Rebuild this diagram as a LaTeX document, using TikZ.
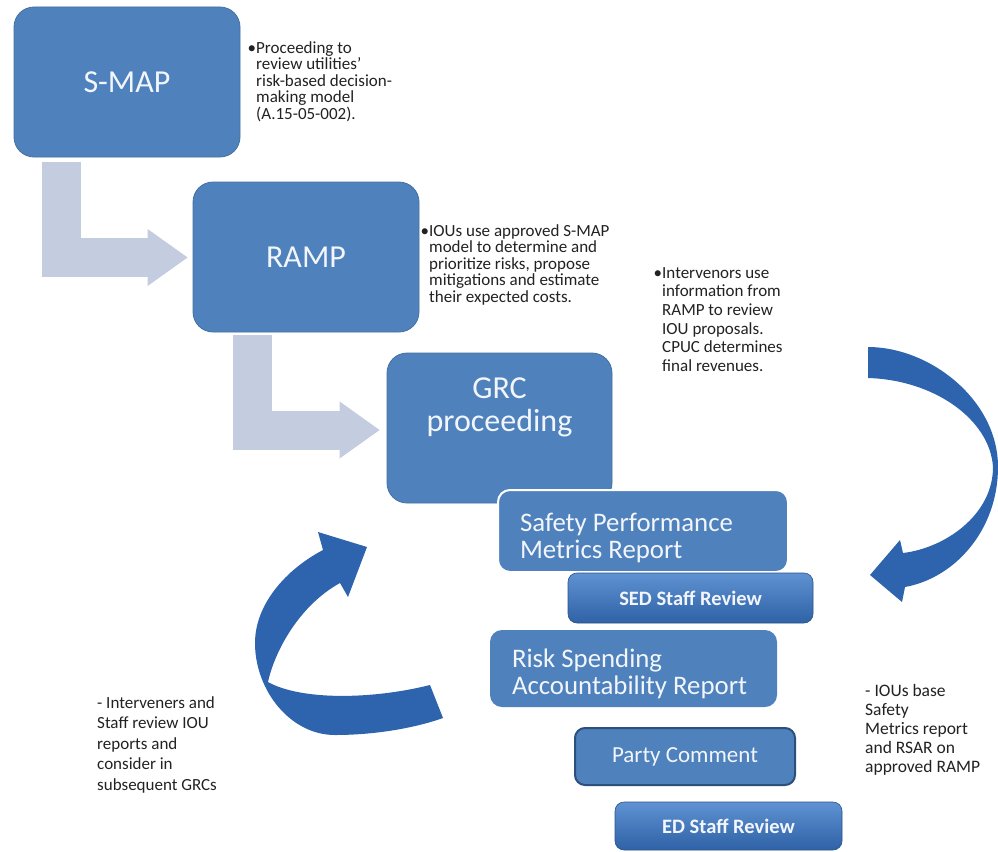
\documentclass[tikz,border=0pt]{standalone}
\usepackage{fontspec}
\setmainfont{Carlito}
\usepackage{xcolor}
\usepackage{tikz}
\usetikzlibrary{arrows.meta,calc}

\definecolor{boxblue}{HTML}{4F81BD}
\definecolor{boxline}{HTML}{44719F}
\definecolor{boxtext}{HTML}{F2F6FB}
\definecolor{partyline}{HTML}{2C4F7C}
\definecolor{stafftop}{HTML}{5F92D2}
\definecolor{staffbot}{HTML}{2F62A6}
\definecolor{stepgrey}{HTML}{C4CDDF}
\definecolor{loopblue}{HTML}{2E64AD}
\definecolor{notetext}{HTML}{222222}

\tikzset{
  mainbox/.style={rectangle,rounded corners=20pt,fill=boxblue,draw=boxline,line width=0.8pt,text=boxtext,font=\fontsize{32}{33}\selectfont,minimum width=226pt,minimum height=150pt,align=center},
  reportbox/.style={rectangle,rounded corners=12pt,fill=boxblue,text=boxtext,font=\fontsize{26.8}{27}\selectfont,align=flush left,inner xsep=22pt},
  staffbox/.style={rectangle,rounded corners=9pt,top color=stafftop,bottom color=staffbot,draw=staffbot!85!black,line width=0.6pt,text=boxtext,font=\bfseries\fontsize{20.5}{22}\selectfont},
  partybox/.style={rectangle,rounded corners=10pt,fill=boxblue,draw=partyline,line width=2pt,text=boxtext,font=\fontsize{23}{24}\selectfont},
  note/.style={anchor=north west,inner sep=0pt,align=left,text=notetext,font=\fontsize{17}{16.5}\selectfont},
  steparrow/.style={draw=stepgrey,line width=39pt,line join=miter,-{Triangle[length=40pt,width=57pt,line width=0pt]}}
}

\begin{document}
\begin{tikzpicture}[x=1pt,y=-1pt]
    \fill[white] (0,0) rectangle (998,851);
    \useasboundingbox (0,0) rectangle (998,851);

    \node[mainbox,name=smap] at (127,82) {S-MAP};
    \node[mainbox,name=ramp] at (306,257) {RAMP};
    \node[mainbox,inner sep=0pt,minimum width=225pt,name=grc] at (499.5,428)
        {\parbox[c][150pt][t]{200pt}{\centering\rule{0pt}{45pt}GRC\\proceeding}};

    \node[reportbox,draw=white,line width=2pt,text width=246pt,minimum height=82pt,name=spm] at (643,531) {\rule{0pt}{33pt}Safety Performance\\Metrics Report};
    \node[staffbox,minimum width=245pt,minimum height=50pt,name=sed] at (690.5,598) {SED Staff Review};
    \node[reportbox,text width=243pt,minimum height=77pt,name=rsar] at (633.5,668.5) {\rule{0pt}{30pt}Risk Spending\\Accountability Report};
    \node[partybox,minimum width=220pt,minimum height=57pt,name=party] at (685,756.5) {Party Comment};
    \node[staffbox,minimum width=227pt,minimum height=48pt,name=ed] at (728.5,826) {ED Staff Review};

    \node[note,name=smapnote] at (256,41) {\llap{•}Proceeding to\\review utilities’\\risk-based decision-\\making model\\(A.15-05-002).};
    \node[note,name=rampnote] at (429,224) {\llap{•}IOUs use approved S-MAP\\model to determine and\\prioritize risks, propose\\mitigations and estimate\\their expected costs.};
    \node[note,font=\fontsize{17}{18.7}\selectfont,name=grcnote] at (662,267) {\llap{•}Intervenors use\\information from\\RAMP to review\\IOU proposals.\\CPUC determines\\final revenues.};
    \node[note,font=\fontsize{17}{20.5}\selectfont,name=reviewnote] at (97,696) {- Interveners and\\Staff review IOU\\reports and\\consider in\\subsequent GRCs};
    \node[note,font=\fontsize{17.5}{19}\selectfont,name=basenote] at (865,684) {- IOUs base\\Safety\\Metrics report\\and RSAR on\\approved RAMP};

    \draw[steparrow] ($(smap.south west)+(48,5)$) |- ($(ramp.west)+(-5,0.5)$);
    \draw[steparrow] ($(ramp.south west)+(59.5,3)$) |- ($(grc.west)+(-7,2)$);

    \fill[loopblue] (868,347) .. controls (930,347) and (998,400) .. (998,467)
        .. controls (998,530) and (955,578) .. (905,587)
        -- (902,602) -- (870,575) -- (900,540) -- (903,553)
        .. controls (945,548) and (993,515) .. (993,467)
        .. controls (990,420) and (935,380) .. (868,378) -- cycle;
    \fill[loopblue] (430,685) .. controls (370,700) and (300,700) .. (268,682)
        .. controls (275,650) and (300,605) .. (340,583)
        -- (348,597) -- (367,547) -- (318,532) -- (323,550)
        .. controls (285,570) and (255,605) .. (255,643)
        .. controls (255,690) and (290,735) .. (335,735)
        .. controls (375,735) and (415,728) .. (443,718) -- cycle;
\end{tikzpicture}
\end{document}
